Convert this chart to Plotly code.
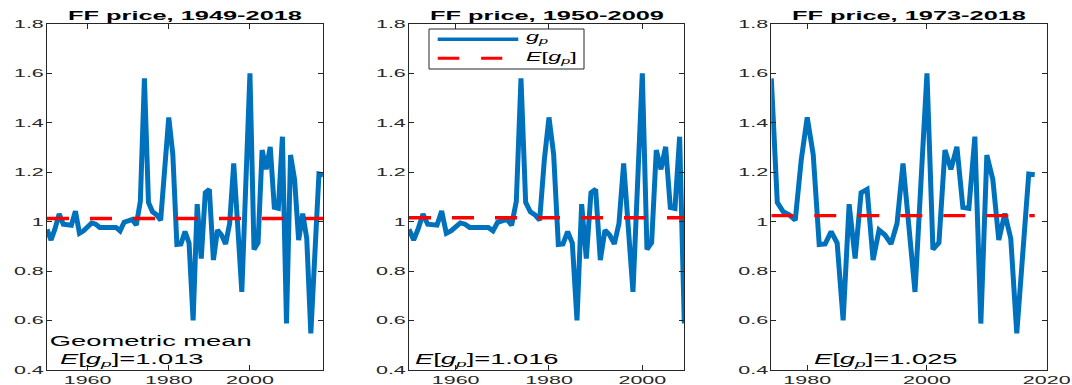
import plotly.graph_objects as go

# Annual gross growth of the FF price index, g_p = P_t / P_{t-1}
years = list(range(1950, 2019))
g_p = [
    0.969, 0.926, 0.973, 1.031, 0.990, 0.986, 0.986, 1.043, 0.953, 0.963,  # 1950-1959
    0.982, 0.995, 0.990, 0.977, 0.977, 0.977, 0.980, 0.977, 0.963, 0.998,  # 1960-1969
    1.003, 1.009, 0.986, 1.083, 1.580, 1.078, 1.040, 1.028, 1.006, 1.250,  # 1970-1979
    1.422, 1.272, 0.908, 0.910, 0.960, 0.914, 0.601, 1.071, 0.851, 1.117,  # 1980-1989
    1.131, 0.845, 0.966, 0.946, 0.910, 0.993, 1.236, 0.980, 0.716, 1.160,  # 1990-1999
    1.600, 0.888, 0.915, 1.290, 1.212, 1.303, 1.058, 1.054, 1.344, 0.588,  # 2000-2009
    1.270, 1.171, 0.926, 1.033, 0.932, 0.548, 0.872, 1.193, 1.190,         # 2010-2018
]

# One panel per sample period
panel_titles = ["FF price, 1949-2018", "FF price, 1950-2009", "FF price, 1973-2018"]
panel_first_year = [1950, 1950, 1974]
panel_last_year = [2018, 2009, 2018]
panel_xrange = [[1950, 2018], [1950, 2009], [1974, 2020]]
panel_xticks = [[1960, 1980, 2000], [1960, 1980, 2000], [1980, 2000, 2020]]
geo_means = [1.013, 1.016, 1.025]

y_ticks = [0.4, 0.6, 0.8, 1.0, 1.2, 1.4, 1.6, 1.8]
y_ticktext = ["0.4", "0.6", "0.8", "1", "1.2", "1.4", "1.6", "1.8"]

series_label = "<i>g</i><sub><i>p</i></sub>"
mean_name = "<i>E</i>[<i>g</i><sub><i>p</i></sub>]"

W, H = 1072, 385
BLUE = "#0072BD"
RED = "#FF0000"
AXC = "#262626"
FONT = "Liberation Sans, Arial, Helvetica, sans-serif"

# Plot-area boxes in pixels (left, right)
x_px = [(47, 323), (409, 684.3), (771.3, 1046.7)]
y_top_px, y_bot_px = 24, 370


def px_x(p):
    return p / W


def px_y(p):
    return 1 - p / H


fig = go.Figure()
annotations = []
shapes = []
layout = dict(
    width=W, height=H,
    margin=dict(l=0, r=0, t=0, b=0, autoexpand=False),
    paper_bgcolor="white", plot_bgcolor="white",
    font=dict(family=FONT, color=AXC, size=11),
    showlegend=False,
)

for i in range(3):
    n = "" if i == 0 else str(i + 1)
    xa, ya = "x" + n, "y" + n
    sel = [(yr, v) for yr, v in zip(years, g_p)
           if panel_first_year[i] <= yr <= panel_last_year[i]]
    xs = [s[0] for s in sel]
    vs = [s[1] for s in sel]

    fig.add_trace(go.Scatter(
        x=xs, y=vs, mode="lines", xaxis=xa, yaxis=ya,
        line=dict(color=BLUE, width=5),
        name=series_label,
    ))
    fig.add_trace(go.Scatter(
        x=[xs[0], xs[-1]], y=[geo_means[i], geo_means[i]], mode="lines",
        xaxis=xa, yaxis=ya,
        line=dict(color=RED, width=3.3, dash="22px,21px"),
        name=mean_name,
    ))

    l, r = x_px[i]
    layout["xaxis" + n] = dict(
        domain=[px_x(l), px_x(r)], anchor=ya, range=panel_xrange[i],
        tickvals=panel_xticks[i], ticks="inside", ticklen=5, tickcolor=AXC,
        showline=True, linecolor=AXC, linewidth=1, mirror="ticks",
        showgrid=False, zeroline=False, ticklabelstandoff=0, automargin=False,
        tickfont=dict(size=11, color=AXC),
    )
    layout["yaxis" + n] = dict(
        domain=[px_y(y_bot_px), px_y(y_top_px)], anchor=xa, range=[0.4, 1.8],
        tickvals=y_ticks, ticktext=y_ticktext, ticks="inside", ticklen=5,
        tickcolor=AXC, showline=True, linecolor=AXC, linewidth=1, mirror="ticks",
        showgrid=False, zeroline=False, automargin=False,
        tickfont=dict(size=11, color=AXC),
    )
    annotations.append(dict(
        text=panel_titles[i], xref="paper", yref="paper",
        x=px_x((l + r) / 2), y=px_y(15), xanchor="center", yanchor="middle",
        showarrow=False,
        font=dict(size=13, color="black", family=FONT, weight="bold"),
    ))

# Geometric-mean labels
mean_label = ["<i>E</i>[<i>g</i><sub><i>p</i></sub>]=%.3f" % m for m in geo_means]
label_cx = [132, 487, 886]
annotations.append(dict(
    text="Geometric mean", xref="paper", yref="paper",
    x=px_x(150), y=px_y(341), xanchor="center", yanchor="middle",
    showarrow=False, font=dict(size=14, color="black", family=FONT),
))
for i in range(3):
    annotations.append(dict(
        text=mean_label[i], xref="paper", yref="paper",
        x=px_x(label_cx[i]), y=px_y(360), xanchor="center", yanchor="middle",
        showarrow=False, font=dict(size=14, color="black", family=FONT),
    ))

# Legend box in the middle panel
lg_l, lg_r, lg_t, lg_b = 429, 584, 29, 69
shapes.append(dict(
    type="rect", xref="paper", yref="paper",
    x0=px_x(lg_l), x1=px_x(lg_r), y0=px_y(lg_b), y1=px_y(lg_t),
    line=dict(color=AXC, width=1), fillcolor="white", layer="above",
))
shapes.append(dict(
    type="line", xref="paper", yref="paper",
    x0=px_x(437.7), x1=px_x(518.3), y0=px_y(39.3), y1=px_y(39.3),
    line=dict(color=BLUE, width=3.5), layer="above",
))
shapes.append(dict(
    type="line", xref="paper", yref="paper",
    x0=px_x(437.7), x1=px_x(502.3), y0=px_y(58.3), y1=px_y(58.3),
    line=dict(color=RED, width=3, dash="21.6px,21.8px"), layer="above",
))
for txt, yy in [(series_label, 38), (mean_name, 57.5)]:
    annotations.append(dict(
        text=txt, xref="paper", yref="paper",
        x=px_x(524), y=px_y(yy), xanchor="left", yanchor="middle", align="left",
        showarrow=False, font=dict(size=12, color="black", family=FONT),
    ))

layout["annotations"] = annotations
layout["shapes"] = shapes
fig.update_layout(**layout)

# Widen all SVG text horizontally (wide, squat lettering); re-applied after
# every redraw so tick labels and titles keep the same proportions.
stretch_js = """
var gd = document.getElementById('{plot_id}');
function widenText() {
  var k = 1.95;
  gd.querySelectorAll('svg text').forEach(function (t) {
    t.removeAttribute('textLength');
    t.removeAttribute('lengthAdjust');
    var L = t.getComputedTextLength();
    if (L > 0) {
      t.setAttribute('textLength', (L * k).toFixed(2));
      t.setAttribute('lengthAdjust', 'spacingAndGlyphs');
    }
  });
}
widenText();
gd.on('plotly_afterplot', widenText);
setTimeout(widenText, 50);
setTimeout(widenText, 300);
"""

fig.write_html("out.html", post_script=stretch_js)
